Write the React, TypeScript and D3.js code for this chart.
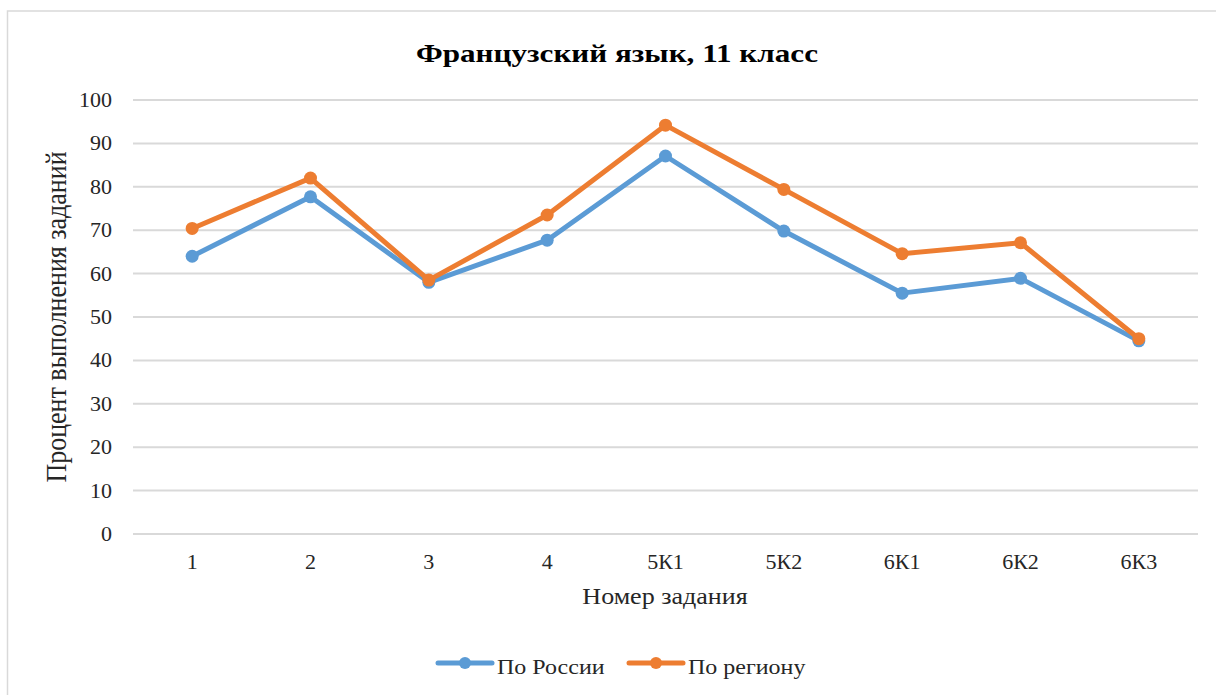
import React from "react";
import * as d3 from "d3";

const categories = ["1", "2", "3", "4", "5К1", "5К2", "6К1", "6К2", "6К3"];
const russiaValues = [64.0, 77.7, 58.0, 67.7, 87.1, 69.8, 55.5, 58.9, 44.5];
const regionValues = [70.4, 82.0, 58.5, 73.5, 94.2, 79.4, 64.6, 67.1, 45.0];
const yTicks = [0, 10, 20, 30, 40, 50, 60, 70, 80, 90, 100];
const seriesNames = ["По России", "По региону"];
const seriesColors = ["#5B9BD5", "#ED7D31"];

const W = 1216;
const H = 695;
const FONT = "Liberation Serif";
const SX = 1.1;

export default function App() {
  const x = d3.scaleBand<string>().domain(categories).range([133, 1198]);
  const y = d3.scaleLinear().domain([0, 100]).range([534, 100]);
  const cx = (i: number) => (x(categories[i]) as number) + x.bandwidth() / 2;
  const line = d3
    .line<number>()
    .x((_, i) => cx(i))
    .y((d) => y(d));
  const series = [russiaValues, regionValues];

  return (
    <svg
      width={W}
      height={H}
      style={{ position: "absolute", left: 0, top: 0, background: "#fff" }}
    >
      <rect x={7.5} y={11} width={1240} height={720} fill="#fff" stroke="#d9d9d9" strokeWidth={1.5} />
      <text
        x={617}
        y={62}
        textAnchor="middle"
        fontFamily={FONT}
        fontWeight="bold"
        fontSize={26}
        textLength={402}
        lengthAdjust="spacingAndGlyphs"
        fill="#000"
      >
        Французский язык, 11 класс
      </text>
      {yTicks.map((t) => (
        <g key={t}>
          <line x1={133} x2={1198} y1={y(t)} y2={y(t)} stroke="#d9d9d9" strokeWidth={2} />
          <text
            transform={`translate(112,${y(t) + 7}) scale(${SX},1)`}
            textAnchor="end"
            fontFamily={FONT}
            fontSize={20}
            fill="#262626"
          >
            {t}
          </text>
        </g>
      ))}
      {categories.map((c, i) => (
        <text
          key={c}
          transform={`translate(${cx(i)},569) scale(${SX},1)`}
          textAnchor="middle"
          fontFamily={FONT}
          fontSize={20}
          fill="#262626"
        >
          {c}
        </text>
      ))}
      <text
        transform={`translate(665,604) scale(1.085,1)`}
        textAnchor="middle"
        fontFamily={FONT}
        fontSize={24}
        fill="#262626"
      >
        Номер задания
      </text>
      <text
        transform={`translate(66,317) rotate(-90) scale(1,1.16)`}
        textAnchor="middle"
        fontFamily={FONT}
        fontSize={26}
        fill="#262626"
      >
        Процент выполнения заданий
      </text>
      {series.map((vals, si) => (
        <g key={si}>
          <path
            d={line(vals) as string}
            fill="none"
            stroke={seriesColors[si]}
            strokeWidth={5}
            strokeLinejoin="round"
            strokeLinecap="round"
          />
          {vals.map((v, i) => (
            <circle key={i} cx={cx(i)} cy={y(v)} r={6.5} fill={seriesColors[si]} />
          ))}
        </g>
      ))}
      {seriesNames.map((name, si) => {
        const lx = si === 0 ? 438 : 629;
        return (
          <g key={name}>
            <line
              x1={lx}
              x2={lx + 54}
              y1={663}
              y2={663}
              stroke={seriesColors[si]}
              strokeWidth={5}
              strokeLinecap="round"
            />
            <circle cx={lx + 27} cy={663} r={6} fill={seriesColors[si]} />
            <text
              transform={`translate(${lx + 59},674) scale(1.09,1)`}
              fontFamily={FONT}
              fontSize={22}
              fill="#262626"
            >
              {name}
            </text>
          </g>
        );
      })}
    </svg>
  );
}
